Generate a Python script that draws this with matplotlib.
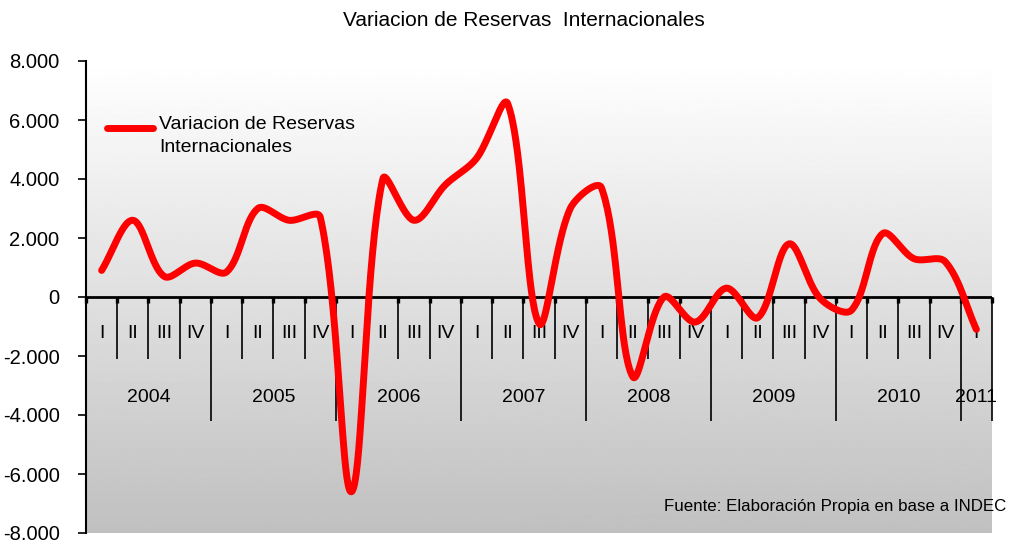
import numpy as np
import matplotlib
matplotlib.use('Agg')
import matplotlib.pyplot as plt

plt.rcParams['font.family'] = ['Liberation Sans', 'DejaVu Sans']

# datos trimestrales (millones US$), 2004 I .. 2011 I
years = ['2004', '2005', '2006', '2007', '2008', '2009', '2010', '2011']
quarters = ['I', 'II', 'III', 'IV']
reservas = [900, 2600, 700, 1150,
            850, 3000, 2600, 2700,
            -6600, 4000, 2600, 3800,
            4700, 6550, -900, 3000,
            3700, -2700, 0, -850,
            300, -700, 1800, -50,
            -450, 2150, 1300, 1200,
            -1100]

n = len(reservas)
x = np.arange(n, dtype=float)
y = np.array(reservas, dtype=float)

# escala en pixeles para suavizar como Excel
PX_X = 907 / n
PX_Y = 472 / 16000


def smooth(xs, ys, t=1 / 3, steps=40):
    P = np.column_stack([xs * PX_X, ys * PX_Y])
    P = np.vstack([P[0], P, P[-1]])
    d = np.hypot(*np.diff(P, axis=0).T)
    out = []
    s = np.linspace(0, 1, steps)[:, None]
    for i in range(1, len(P) - 2):
        p0, p1, p2, p3 = P[i - 1], P[i], P[i + 1], P[i + 2]
        da, db, dc = d[i - 1], d[i], d[i + 1]
        c1 = p1 + t * (p2 - p0) * db / (da + db)
        c2 = p2 - t * (p3 - p1) * db / (db + dc)
        seg = ((1 - s)**3 * p1 + 3 * (1 - s)**2 * s * c1 +
               3 * (1 - s) * s**2 * c2 + s**3 * p2)
        out.append(seg)
    out = np.vstack(out)
    return out[:, 0] / PX_X, out[:, 1] / PX_Y


sx, sy = smooth(x, y)

fig = plt.figure(figsize=(10.09, 5.47), dpi=100)
ax = fig.add_axes([86 / 1009, 14 / 547, 906 / 1009, 472 / 547])

# fondo degradado
grad = np.linspace(0.753, 1.0, 256).reshape(-1, 1)
ax.imshow(grad, extent=[0, 1, 0, 1], transform=ax.transAxes, aspect='auto',
          cmap='gray', vmin=0, vmax=1, origin='lower', zorder=0)

ax.set_xlim(-0.5, n - 0.5)
ax.set_ylim(-8000, 8000)
ax.set_yticks(np.arange(-8000, 8001, 2000))
ax.set_yticklabels(['{:,}'.format(v).replace(',', '.') for v in range(-8000, 8001, 2000)])
ax.tick_params(axis='y', direction='out', length=6, width=1.2, pad=13, labelsize=14.5)
ax.set_xticks([])
for s in ['top', 'right', 'bottom']:
    ax.spines[s].set_visible(False)
ax.spines['left'].set_linewidth(1.5)

# eje de categorias en y=0
ax.axhline(0, color='black', lw=2, zorder=2)
for k in range(n + 1):
    long_ = (k % 4 == 0) or k == n
    ax.plot([k - 0.5, k - 0.5], [0, -4200 if long_ else -2100], color='black', lw=1.2,
            zorder=2, clip_on=False, solid_capstyle='butt')
    ax.plot([k - 0.5, k - 0.5], [0, -220], color='black', lw=2.4, zorder=2, clip_on=False,
            solid_capstyle='butt')
for i in range(n):
    ax.text(i, -1250, quarters[i % 4], ha='center', va='center', fontsize=14, zorder=2)
for j, yr in enumerate(years):
    cnt = min(4, n - 4 * j)
    ax.text(4 * j + (cnt - 1) / 2, -3400, yr, ha='center', va='center', fontsize=14, zorder=2)

ax.plot(sx, sy, color='#ff0000', lw=5, solid_capstyle='round', zorder=3)

# leyenda
ax.plot([0.023, 0.074], [0.858, 0.858], transform=ax.transAxes, color='#ff0000', lw=5,
        solid_capstyle='round', zorder=3)
ax.text(0.081, 0.884, 'Variacion de Reservas\nInternacionales', transform=ax.transAxes,
        ha='left', va='top', fontsize=14, linespacing=1.45)

fig.text(524 / 1009, 1 - 20 / 547, 'Variacion de Reservas  Internacionales', ha='center',
         va='center', fontsize=15)
fig.text(1006 / 1009, 1 - 507 / 547, 'Fuente: Elaboración Propia en base a INDEC', ha='right',
         va='center', fontsize=12.2)

fig.savefig('out.png', dpi=100)
